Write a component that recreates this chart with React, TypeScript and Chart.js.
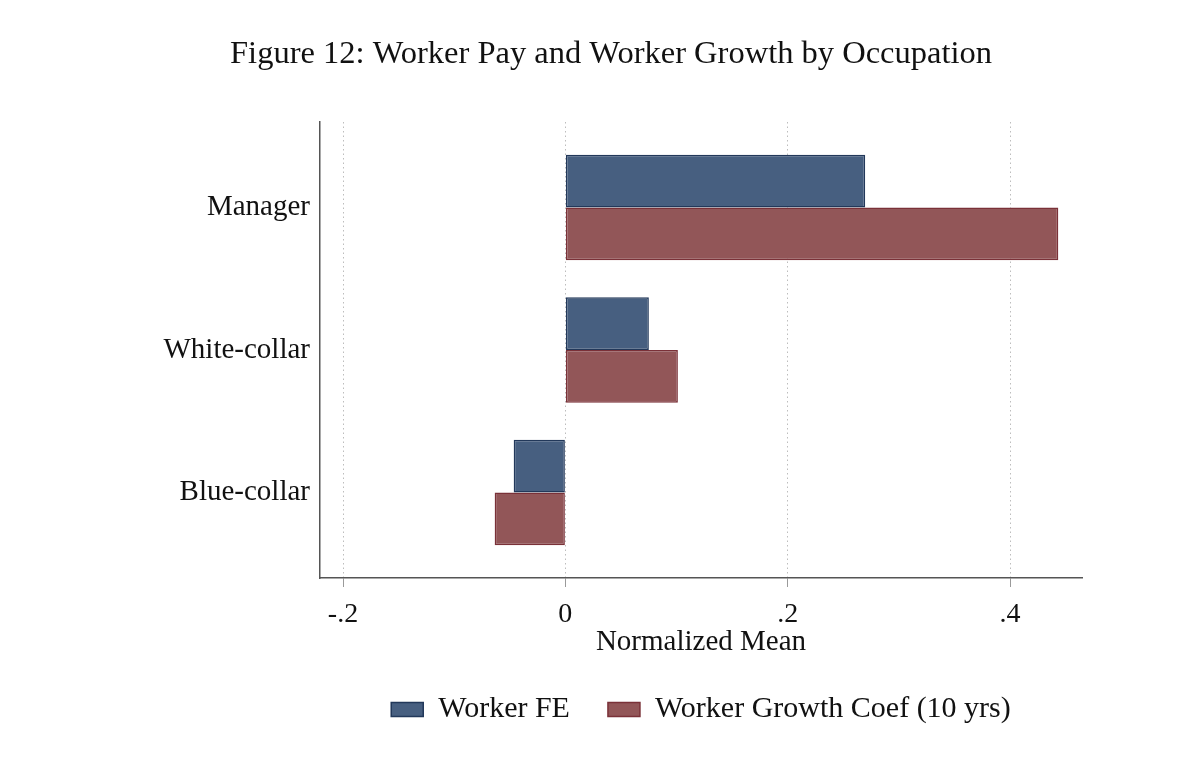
import { useEffect, useRef } from "react";
import { Chart, registerables } from "chart.js";

Chart.register(...registerables);

const occupations = ["Manager", "White-collar", "Blue-collar"];
const workerFE = [0.2697, 0.0751, -0.0465];
const workerGrowth = [0.4434, 0.1012, -0.0636];
const xTickValues = [-0.2, 0, 0.2, 0.4];
const xTickLabels = ["-.2", "0", ".2", ".4"];

const serif = "'Liberation Serif', 'Times New Roman', serif";

export default function App() {
  const chartRef = useRef<HTMLCanvasElement>(null);

  useEffect(() => {
    document.body.style.margin = "0";
    if (!chartRef.current) return;
    const ctx = chartRef.current.getContext("2d");
    if (!ctx) return;

    Chart.defaults.font.family = serif;
    Chart.defaults.color = "#111";

    const chart = new Chart(ctx, {
      type: "bar",
      data: {
        datasets: [
          {
            label: "Worker FE",
            data: occupations.map((_, i) => ({ x: workerFE[i], y: i })),
            backgroundColor: "#475f80",
            borderColor: "#22385a",
            borderWidth: 1.5,
            borderSkipped: false,
          },
          {
            label: "Worker Growth Coef (10 yrs)",
            data: occupations.map((_, i) => ({ x: workerGrowth[i], y: i })),
            backgroundColor: "#925658",
            borderColor: "#7a3138",
            borderWidth: 1.5,
            borderSkipped: false,
          },
        ],
      },
      options: {
        indexAxis: "y",
        animation: false,
        responsive: true,
        maintainAspectRatio: false,
        categoryPercentage: 0.74,
        barPercentage: 1,
        layout: {
          padding: { left: 140, right: 118, top: 0, bottom: 26.5 },
        },
        plugins: {
          title: {
            display: true,
            text: "Figure 12: Worker Pay and Worker Growth by Occupation",
            font: { size: 32.5, weight: "normal" },
            color: "#111",
            padding: { top: 34.5, bottom: 48.5 },
          },
          legend: {
            position: "bottom",
            fullSize: false,
            labels: {
              boxWidth: 32,
              boxHeight: 14,
              padding: 38,
              font: { size: 30 },
              color: "#111",
            },
          },
          tooltip: { enabled: false },
        },
        scales: {
          x: {
            type: "linear",
            bounds: "data",
            min: -0.2207,
            max: 0.4647,
            afterBuildTicks: (scale) => {
              scale.ticks = xTickValues.map((value) => ({ value }));
            },
            ticks: {
              padding: 14,
              font: { size: 28, lineHeight: 1 },
              color: "#111",
              callback: (_value, index) => xTickLabels[index],
            },
            grid: {
              color: "#bdbdbd",
              lineWidth: 1,
              tickLength: 9,
              tickColor: "#9a9a9a",
              tickWidth: 1,
            },
            border: {
              color: "#555",
              width: 1.5,
              dash: [1.5, 3],
            },
            title: {
              display: true,
              text: "Normalized Mean",
              font: { size: 29, lineHeight: 1 },
              color: "#111",
              padding: { top: -15.5, bottom: 0 },
            },
          },
          y: {
            type: "linear",
            bounds: "data",
            offset: false,
            reverse: true,
            min: -0.6,
            max: 2.6,
            afterBuildTicks: (scale) => {
              scale.ticks = occupations.map((_, i) => ({ value: i }));
            },
            afterFit: (scale) => {
              scale.width = 180;
            },
            ticks: {
              padding: 10,
              font: { size: 29 },
              color: "#111",
              callback: (value) => occupations[Number(value)],
            },
            grid: { display: false, drawTicks: false },
            border: { color: "#555", width: 1.5 },
          },
        },
      },
    });

    return () => chart.destroy();
  }, []);

  return (
    <div style={{ width: 1200, height: 761, position: "relative", background: "#fff" }}>
      <canvas ref={chartRef} />
    </div>
  );
}
